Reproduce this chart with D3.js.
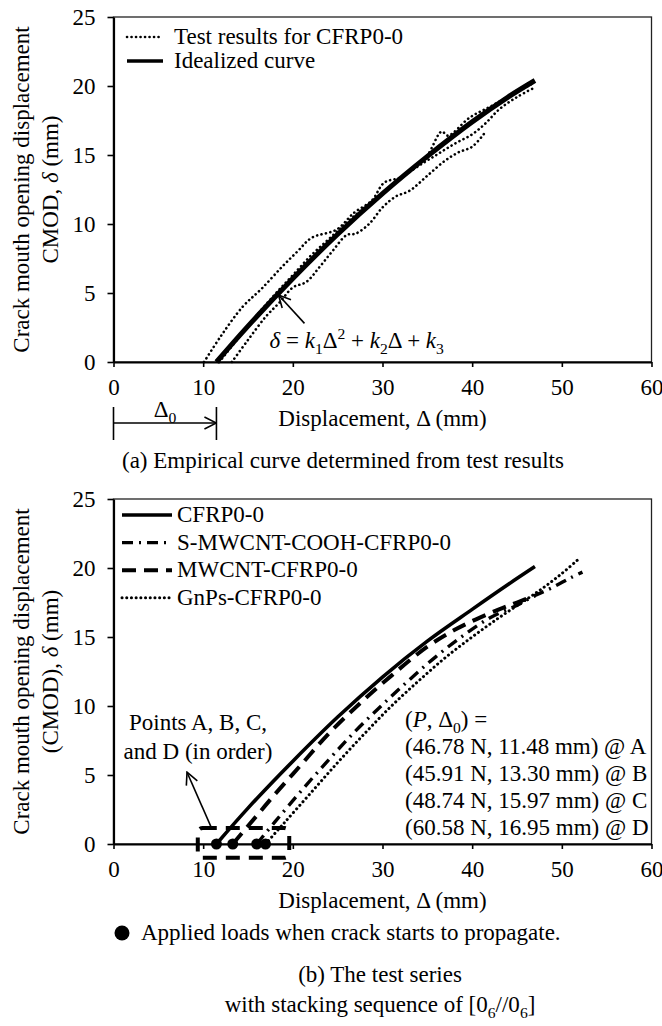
<!DOCTYPE html>
<html>
<head>
<meta charset="utf-8">
<script src="https://cdn.jsdelivr.net/npm/d3@7"></script>
<style>
	body { margin: 0; background: #fff; }
	svg text { font-family: 'Liberation Serif', 'Times New Roman', serif; fill: #000; }
</style>
</head>
<body>
<div id="viz-container"></div>
<script>
var xTicks = [0, 10, 20, 30, 40, 50, 60],
	yTicks = [0, 5, 10, 15, 20, 25];

// (a) three test records of CFRP0-0 and the idealized curve
var test1Disp = [10.1, 12, 14.4, 16.5, 18.8, 20.5, 22.1, 24.9, 26.8, 28.8, 30.2, 32.1, 34.9, 36.6, 37.3, 39.7, 42, 44.5, 46.8],
	test1Cmod = [0, 1.9, 4.0, 5.3, 6.9, 8.0, 9.0, 9.6, 10.8, 11.7, 13.0, 13.4, 14.9, 16.7, 16.4, 17.7, 18.5, 19.4, 20.2];
var test2Disp = [13.2, 15, 17, 18.5, 20, 21.5, 23, 24.5, 26, 27, 28.5, 30, 31.5, 33, 35, 37, 38.5, 40, 41.4],
	test2Cmod = [0, 1.6, 3.3, 4.3, 5.4, 5.8, 6.9, 8.1, 9.2, 9.3, 10.0, 11.2, 12.0, 12.4, 13.5, 14.6, 15.2, 15.6, 16.6];
var test3Disp = [11.8, 14, 16, 18, 20, 22, 24, 26, 28, 30, 32, 34, 36, 38, 40, 41.5, 43, 45, 47],
	test3Cmod = [0, 1.8, 3.4, 4.9, 6.3, 7.7, 8.9, 10.1, 11.2, 12.2, 13.3, 14.2, 15.0, 15.8, 16.5, 17.3, 18.3, 19.2, 19.9];
var idealDisp = [11.48, 15, 20, 25, 30, 35, 40, 44, 47],
	idealCmod = [0, 2.6, 6.05, 9.26, 12.2, 14.9, 17.4, 19.2, 20.4];

// (b) idealized curves of the test series
var seriesNames = ['CFRP0-0', 'S-MWCNT-COOH-CFRP0-0', 'MWCNT-CFRP0-0', 'GnPs-CFRP0-0'];
var cfrpDisp = [11.48, 15, 20, 25, 30, 35, 40, 44, 47],
	cfrpCmod = [0, 2.6, 6.0, 9.2, 12.1, 14.7, 17.0, 18.8, 20.1];
var sMwcntDisp = [15.97, 18, 21, 24, 27, 30, 33, 36, 39, 42, 45, 47, 49, 51, 52.3],
	sMwcntCmod = [0, 1.6, 3.9, 6.1, 8.2, 10.1, 11.9, 13.6, 15.1, 16.4, 17.3, 18.0, 18.6, 19.3, 19.7];
var mwcntDisp = [13.3, 15, 18, 21, 24, 27.5, 31, 35, 38, 40.5, 43, 45, 47],
	mwcntCmod = [0, 1.3, 3.6, 5.8, 8.0, 10.2, 12.2, 14.3, 15.5, 16.3, 17.0, 17.5, 18.0];
var gnpDisp = [16.95, 19, 22, 25, 28, 31, 34, 37, 40, 43, 46, 48, 50, 51.8],
	gnpCmod = [0, 1.5, 3.7, 5.9, 8.0, 10.0, 11.8, 13.5, 15.0, 16.4, 17.7, 18.6, 19.6, 20.6];

// crack initiation points
var pointNames = ['A', 'B', 'C', 'D'],
	crackLoad = ['46.78', '45.91', '48.74', '60.58'],
	crackDisp = ['11.48', '13.30', '15.97', '16.95'];

var svg = d3.select('#viz-container')
	.append('svg')
	.attr('width', 662)
	.attr('height', 1026);

var defs = svg.append('defs');
defs.append('marker')
	.attr('id', 'open-arrow')
	.attr('viewBox', '0 0 14 14')
	.attr('refX', 13)
	.attr('refY', 7)
	.attr('markerWidth', 14)
	.attr('markerHeight', 14)
	.attr('markerUnits', 'userSpaceOnUse')
	.attr('orient', 'auto')
	.append('path')
	.attr('d', 'M1,1 L13,7 L1,13')
	.attr('fill', 'none')
	.attr('stroke', '#000')
	.attr('stroke-width', 1.6);

// writes text pieces, some italic, some sub/superscript
function richText (sel, parts) {
	var shift = 0;
	parts.forEach(function (p) {
		var want = p.sub ? 6 : (p.sup ? -9 : 0);
		var t = sel.append('tspan').text(p.t).attr('dy', want - shift);
		shift = want;
		if (p.sub || p.sup) t.attr('font-size', '0.68em');
		if (p.i) t.attr('font-style', 'italic');
	});
	return sel;
}

function drawPanel (top) {
	var x = d3.scaleLinear().domain([0, 60]).range([113.5, 651.5]),
		y = d3.scaleLinear().domain([0, 25]).range([top + 345, top]);
	var g = svg.append('g');

	g.append('rect')
		.attr('x', x(0))
		.attr('y', y(25))
		.attr('width', x(60) - x(0))
		.attr('height', y(0) - y(25))
		.attr('fill', 'none')
		.attr('stroke', '#222')
		.attr('stroke-width', 1.3);

	var xAxis = g.append('g')
		.attr('transform', 'translate(0,' + y(0) + ')')
		.call(d3.axisBottom(x).tickValues(xTicks).tickSize(5).tickSizeOuter(0).tickPadding(12));
	var yAxis = g.append('g')
		.attr('transform', 'translate(' + x(0) + ',0)')
		.call(d3.axisLeft(y).tickValues(yTicks).tickSize(6).tickSizeOuter(0).tickPadding(12));

	[xAxis, yAxis].forEach(function (a) {
		a.attr('font-family', null).attr('font-size', 23);
		a.select('.domain').attr('stroke-width', 2.2);
		a.selectAll('.tick line').attr('stroke-width', 1.6);
	});

	var line = d3.line()
		.x(function (d) { return x(d[0]); })
		.y(function (d) { return y(d[1]); })
		.curve(d3.curveCatmullRom.alpha(0.5));

	return {g: g, x: x, y: y, line: line, top: top};
}

function yTitle (p, second) {
	var cy = (p.y(0) + p.y(25)) / 2;
	p.g.append('text')
		.attr('transform', 'translate(29,' + cy + ') rotate(-90)')
		.attr('text-anchor', 'middle')
		.attr('font-size', 23)
		.text('Crack mouth opening displacement');
	richText(p.g.append('text')
		.attr('transform', 'translate(58,' + cy + ') rotate(-90)')
		.attr('text-anchor', 'middle')
		.attr('font-size', 23), [{t: second}, {t: 'δ', i: true}, {t: ' (mm)'}]);
}

function xTitle (p, yPos) {
	p.g.append('text')
		.attr('x', (p.x(0) + p.x(60)) / 2)
		.attr('y', yPos)
		.attr('text-anchor', 'middle')
		.attr('font-size', 23)
		.text('Displacement, Δ (mm)');
}

// ---------- panel (a)
var pa = drawPanel(17);
yTitle(pa, 'CMOD, ');
xTitle(pa, 426);

var tests = [[test1Disp, test1Cmod], [test2Disp, test2Cmod], [test3Disp, test3Cmod]];
pa.g.selectAll('path.test')
	.data(tests)
	.enter()
	.append('path')
	.attr('class', 'test')
	.attr('d', function (d) { return pa.line(d3.zip(d[0], d[1])); })
	.attr('fill', 'none')
	.attr('stroke', '#000')
	.attr('stroke-width', 2.6)
	.attr('stroke-linecap', 'round')
	.attr('stroke-dasharray', '0.1,4.4');

pa.g.append('path')
	.attr('d', pa.line(d3.zip(idealDisp, idealCmod)))
	.attr('fill', 'none')
	.attr('stroke', '#000')
	.attr('stroke-width', 5);

// legend (a)
var legA = [{name: 'Test results for CFRP0-0', dash: '0.1,4.4', w: 2.6}, {name: 'Idealized curve', dash: null, w: 3.5}];
legA.forEach(function (d, i) {
	var cy = 37 + i * 24;
	pa.g.append('line')
		.attr('x1', 127).attr('x2', 163)
		.attr('y1', cy).attr('y2', cy)
		.attr('stroke', '#000')
		.attr('stroke-width', d.w)
		.attr('stroke-linecap', d.dash ? 'round' : 'butt')
		.attr('stroke-dasharray', d.dash);
	pa.g.append('text')
		.attr('x', 174)
		.attr('y', cy + 7)
		.attr('font-size', 23)
		.text(d.name);
});

// formula and its arrow
pa.g.append('line')
	.attr('x1', pa.x(21.3)).attr('y1', pa.y(2.8))
	.attr('x2', pa.x(18.4)).attr('y2', pa.y(4.85))
	.attr('stroke', '#000')
	.attr('stroke-width', 1.6)
	.attr('marker-end', 'url(#open-arrow)');
richText(pa.g.append('text')
	.attr('x', pa.x(17.4))
	.attr('y', pa.y(1.0))
	.attr('font-size', 23), [
	{t: 'δ', i: true}, {t: ' = '}, {t: 'k', i: true}, {t: '1', sub: true}, {t: 'Δ'}, {t: '2', sup: true},
	{t: ' + '}, {t: 'k', i: true}, {t: '2', sub: true}, {t: 'Δ + '}, {t: 'k', i: true}, {t: '3', sub: true}
]);

// Δ0 dimension
var dimY = pa.y(0) + 61;
[0, idealDisp[0]].forEach(function (v) {
	pa.g.append('line')
		.attr('x1', pa.x(v)).attr('x2', pa.x(v))
		.attr('y1', dimY - 16).attr('y2', dimY + 17)
		.attr('stroke', '#000')
		.attr('stroke-width', 1.6);
});
pa.g.append('line')
	.attr('x1', pa.x(0)).attr('x2', pa.x(idealDisp[0]))
	.attr('y1', dimY).attr('y2', dimY)
	.attr('stroke', '#000')
	.attr('stroke-width', 1.6)
	.attr('marker-end', 'url(#open-arrow)');
richText(pa.g.append('text')
	.attr('x', pa.x(idealDisp[0] / 2))
	.attr('y', dimY - 6)
	.attr('text-anchor', 'middle')
	.attr('font-size', 23), [{t: 'Δ'}, {t: '0', sub: true}]);

svg.append('text')
	.attr('x', 122)
	.attr('y', 468)
	.attr('font-size', 23)
	.text('(a) Empirical curve determined from test results');

// ---------- panel (b)
var pb = drawPanel(499);
yTitle(pb, '(CMOD), ');
xTitle(pb, 908);

var series = [
	{name: seriesNames[0], disp: cfrpDisp, cmod: cfrpCmod, dash: null, w: 3.6, cap: 'butt'},
	{name: seriesNames[1], disp: sMwcntDisp, cmod: sMwcntCmod, dash: '11,6,2,6', w: 3.4, cap: 'butt'},
	{name: seriesNames[2], disp: mwcntDisp, cmod: mwcntCmod, dash: '14,8', w: 4, cap: 'butt'},
	{name: seriesNames[3], disp: gnpDisp, cmod: gnpCmod, dash: '0.1,4.6', w: 3, cap: 'round'}
];

pb.g.selectAll('path.series')
	.data(series)
	.enter()
	.append('path')
	.attr('class', 'series')
	.attr('d', function (d) { return pb.line(d3.zip(d.disp, d.cmod)); })
	.attr('fill', 'none')
	.attr('stroke', '#000')
	.attr('stroke-width', function (d) { return d.w; })
	.attr('stroke-linecap', function (d) { return d.cap; })
	.attr('stroke-dasharray', function (d) { return d.dash; });

series.forEach(function (d, i) {
	var cy = 515 + i * 27.6;
	pb.g.append('line')
		.attr('x1', 122).attr('x2', 172)
		.attr('y1', cy).attr('y2', cy)
		.attr('stroke', '#000')
		.attr('stroke-width', d.w)
		.attr('stroke-linecap', d.cap)
		.attr('stroke-dasharray', d.dash);
	pb.g.append('text')
		.attr('x', 177)
		.attr('y', cy + 7)
		.attr('font-size', 23)
		.text(d.name);
});

// dashed box around the crack points
pb.g.append('rect')
	.attr('x', pb.x(9.4))
	.attr('y', pb.y(1.16))
	.attr('width', pb.x(19.6) - pb.x(9.4))
	.attr('height', pb.y(-1.0) - pb.y(1.16))
	.attr('rx', 5)
	.attr('fill', 'none')
	.attr('stroke', '#000')
	.attr('stroke-width', 4)
	.attr('stroke-dasharray', '14,9');

pb.g.selectAll('circle.crack')
	.data(crackDisp)
	.enter()
	.append('circle')
	.attr('class', 'crack')
	.attr('cx', function (d) { return pb.x(+d); })
	.attr('cy', pb.y(0))
	.attr('r', 5.5)
	.attr('fill', '#000');

pb.g.append('line')
	.attr('x1', pb.x(10.9)).attr('y1', pb.y(1.2))
	.attr('x2', pb.x(8.2)).attr('y2', pb.y(5.2))
	.attr('stroke', '#000')
	.attr('stroke-width', 1.6)
	.attr('marker-end', 'url(#open-arrow)');

['Points A, B, C,', 'and D (in order)'].forEach(function (s, i) {
	pb.g.append('text')
		.attr('x', 198)
		.attr('y', 730 + i * 29)
		.attr('text-anchor', 'middle')
		.attr('font-size', 23)
		.text(s);
});

var pdText = pb.g.append('g').attr('font-size', 23);
richText(pdText.append('text').attr('x', 405).attr('y', 727),
	[{t: '('}, {t: 'P', i: true}, {t: ', Δ'}, {t: '0', sub: true}, {t: ') ='}]);
pointNames.forEach(function (n, i) {
	pdText.append('text')
		.attr('x', 405)
		.attr('y', 727 + (i + 1) * 27)
		.text('(' + crackLoad[i] + ' N, ' + crackDisp[i] + ' mm) @ ' + n);
});

// note under panel (b)
svg.append('circle')
	.attr('cx', 122)
	.attr('cy', 933)
	.attr('r', 7.5)
	.attr('fill', '#000');
svg.append('text')
	.attr('x', 141)
	.attr('y', 940)
	.attr('font-size', 23)
	.text('Applied loads when crack starts to propagate.');

svg.append('text')
	.attr('x', 380)
	.attr('y', 982)
	.attr('text-anchor', 'middle')
	.attr('font-size', 23)
	.text('(b) The test series');
richText(svg.append('text')
	.attr('x', 380)
	.attr('y', 1012)
	.attr('text-anchor', 'middle')
	.attr('font-size', 23), [{t: 'with stacking sequence of [0'}, {t: '6', sub: true}, {t: '//0'}, {t: '6', sub: true}, {t: ']'}]);
</script>
</body>
</html>
